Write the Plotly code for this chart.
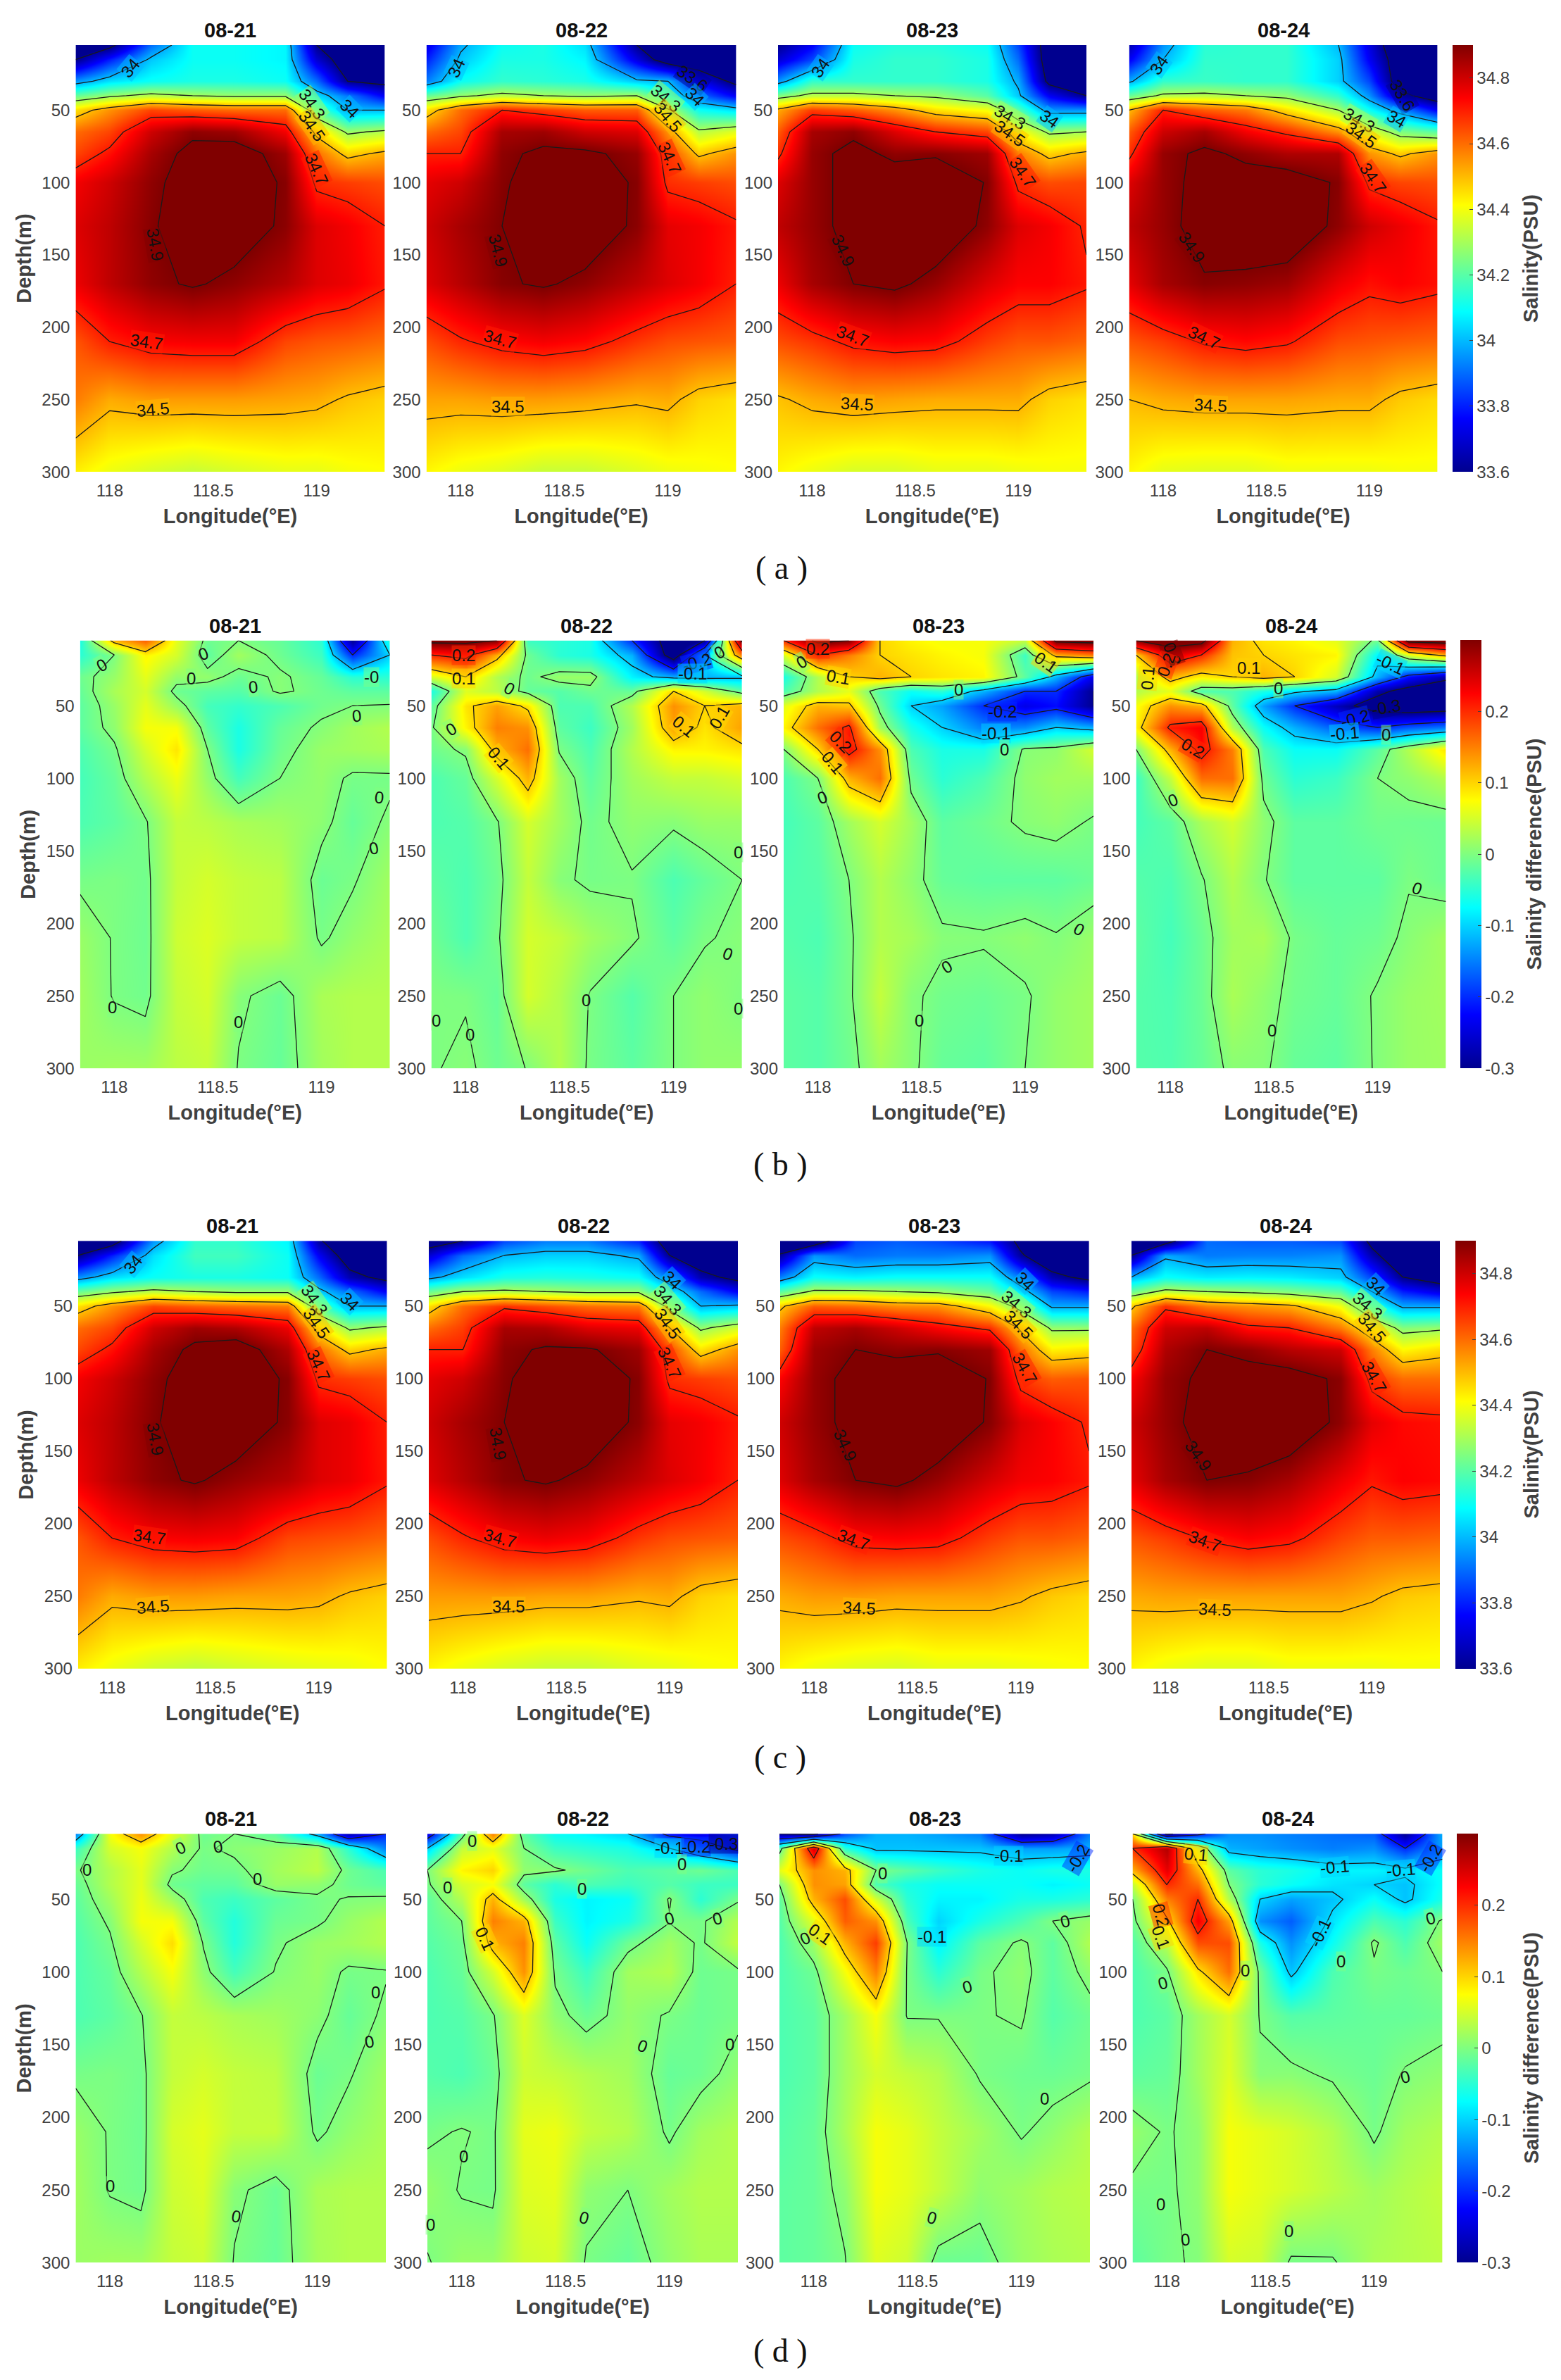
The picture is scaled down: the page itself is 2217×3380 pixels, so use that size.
import plotly.graph_objects as go

days = ['08-21', '08-22', '08-23', '08-24']
depths = [5, 15, 30, 40, 50, 65, 80, 100, 130, 170, 210, 250, 300]
lon_sal = [117.835, 118.0, 118.2, 118.4, 118.6, 118.85, 119.0, 119.15, 119.33]
lon_dif = [117.835, 118.0, 118.15, 118.3, 118.45, 118.6, 118.8, 119.0, 119.15, 119.33]

sal_levels = [33.6, 34, 34.3, 34.5, 34.7, 34.9]
dif_levels = [-0.3, -0.2, -0.1, 0, 0.1, 0.2, 0.3]
sal_ticks = [33.6, 33.8, 34, 34.2, 34.4, 34.6, 34.8]
dif_ticks = [-0.3, -0.2, -0.1, 0, 0.1, 0.2]

a_21 = [
    [33.5, 33.55, 33.9, 34.1, 34.1, 34.08, 33.6, 33.45, 33.45],
    [33.6, 33.8, 34.02, 34.1, 34.1, 34.08, 33.7, 33.5, 33.45],
    [33.95, 34.05, 34.1, 34.12, 34.12, 34.1, 33.9, 33.6, 33.55],
    [34.22, 34.28, 34.33, 34.3, 34.28, 34.28, 34.05, 33.92, 33.75],
    [34.45, 34.55, 34.65, 34.62, 34.6, 34.6, 34.2, 34.0, 34.0],
    [34.6, 34.65, 34.8, 34.88, 34.86, 34.75, 34.47, 34.28, 34.32],
    [34.65, 34.72, 34.85, 34.93, 34.95, 34.86, 34.6, 34.47, 34.52],
    [34.75, 34.8, 34.88, 34.94, 34.95, 34.89, 34.68, 34.66, 34.64],
    [34.78, 34.82, 34.89, 34.95, 34.95, 34.885, 34.78, 34.75, 34.7],
    [34.76, 34.82, 34.88, 34.91, 34.88, 34.83, 34.78, 34.76, 34.71],
    [34.63, 34.7, 34.74, 34.75, 34.75, 34.65, 34.63, 34.62, 34.6],
    [34.58, 34.52, 34.54, 34.54, 34.54, 34.53, 34.52, 34.49, 34.47],
    [34.43, 34.39, 34.36, 34.34, 34.36, 34.38, 34.38, 34.4, 34.41],
]
a_22 = [
    [33.72, 33.98, 34.1, 34.12, 34.05, 33.6, 33.45, 33.45, 33.45],
    [33.8, 34.02, 34.12, 34.12, 34.08, 33.72, 33.5, 33.45, 33.45],
    [33.92, 34.1, 34.15, 34.14, 34.12, 34.02, 34.0, 33.75, 33.55],
    [34.22, 34.28, 34.33, 34.3, 34.28, 34.3, 34.1, 33.9, 33.75],
    [34.45, 34.6, 34.7, 34.66, 34.62, 34.62, 34.32, 34.1, 34.05],
    [34.6, 34.65, 34.85, 34.86, 34.8, 34.78, 34.55, 34.32, 34.38],
    [34.7, 34.7, 34.88, 34.92, 34.92, 34.87, 34.65, 34.48, 34.55],
    [34.77, 34.8, 34.89, 34.94, 34.95, 34.89, 34.68, 34.66, 34.64],
    [34.8, 34.85, 34.9, 34.95, 34.96, 34.885, 34.77, 34.75, 34.71],
    [34.78, 34.83, 34.89, 34.91, 34.88, 34.82, 34.78, 34.75, 34.7],
    [34.64, 34.69, 34.73, 34.75, 34.73, 34.67, 34.64, 34.63, 34.62],
    [34.53, 34.53, 34.54, 34.54, 34.53, 34.51, 34.52, 34.47, 34.45],
    [34.42, 34.39, 34.37, 34.34, 34.34, 34.37, 34.39, 34.4, 34.41],
]
a_23 = [
    [33.6, 33.75, 34.1, 34.13, 34.13, 34.1, 33.85, 33.5, 33.4],
    [33.7, 33.85, 34.12, 34.15, 34.15, 34.12, 33.9, 33.5, 33.42],
    [33.95, 34.15, 34.15, 34.15, 34.15, 34.12, 33.98, 33.55, 33.45],
    [34.25, 34.33, 34.33, 34.3, 34.28, 34.2, 34.02, 33.75, 33.6],
    [34.52, 34.66, 34.62, 34.55, 34.45, 34.4, 34.2, 33.95, 33.95],
    [34.62, 34.85, 34.88, 34.78, 34.7, 34.65, 34.42, 34.28, 34.3],
    [34.68, 34.87, 34.93, 34.88, 34.89, 34.86, 34.58, 34.47, 34.52],
    [34.78, 34.87, 34.93, 34.95, 34.96, 34.895, 34.68, 34.64, 34.65],
    [34.82, 34.87, 34.93, 34.97, 34.97, 34.88, 34.78, 34.75, 34.69],
    [34.76, 34.85, 34.9, 34.92, 34.87, 34.78, 34.74, 34.74, 34.71],
    [34.64, 34.67, 34.72, 34.74, 34.73, 34.66, 34.63, 34.63, 34.61],
    [34.49, 34.52, 34.54, 34.53, 34.52, 34.52, 34.52, 34.47, 34.45],
    [34.42, 34.39, 34.36, 34.36, 34.38, 34.38, 34.39, 34.4, 34.4],
]
a_24 = [
    [33.65, 33.95, 34.14, 34.15, 34.15, 34.0, 33.72, 33.45, 33.4],
    [33.75, 34.0, 34.15, 34.15, 34.15, 34.03, 33.75, 33.5, 33.42],
    [33.98, 34.15, 34.16, 34.15, 34.15, 34.03, 33.85, 33.5, 33.42],
    [34.22, 34.32, 34.33, 34.3, 34.27, 34.15, 33.95, 33.65, 33.5],
    [34.5, 34.7, 34.62, 34.58, 34.45, 34.3, 34.1, 33.95, 33.75],
    [34.62, 34.8, 34.85, 34.75, 34.68, 34.55, 34.38, 34.25, 34.2],
    [34.68, 34.87, 34.92, 34.88, 34.84, 34.84, 34.55, 34.48, 34.55],
    [34.78, 34.87, 34.93, 34.94, 34.95, 34.89, 34.68, 34.65, 34.64],
    [34.82, 34.87, 34.94, 34.96, 34.97, 34.88, 34.8, 34.76, 34.71],
    [34.77, 34.85, 34.89, 34.88, 34.86, 34.76, 34.72, 34.74, 34.72],
    [34.63, 34.66, 34.71, 34.73, 34.71, 34.64, 34.63, 34.62, 34.61],
    [34.5, 34.52, 34.53, 34.53, 34.53, 34.52, 34.52, 34.48, 34.46],
    [34.42, 34.38, 34.37, 34.37, 34.39, 34.39, 34.39, 34.4, 34.4],
]

b_21 = [
    [-0.06, 0.12, 0.17, 0.06, -0.01, 0.0, -0.015, -0.05, -0.3, -0.05],
    [-0.05, 0.0, 0.08, 0.05, -0.02, 0.02, -0.01, -0.04, -0.2, -0.1],
    [-0.01, 0.015, 0.06, 0.012, 0.012, -0.012, 0.005, -0.015, -0.05, -0.05],
    [-0.015, 0.025, 0.05, -0.01, -0.02, -0.025, 0.005, -0.01, -0.02, -0.02],
    [-0.02, 0.015, 0.06, 0.015, -0.035, -0.045, -0.03, -0.008, 0.0, 0.002],
    [-0.02, 0.01, 0.07, 0.07, -0.02, -0.06, -0.015, 0.005, 0.02, 0.03],
    [-0.03, -0.005, 0.05, 0.09, 0.0, -0.06, -0.01, 0.015, 0.02, 0.025],
    [-0.035, -0.015, 0.03, 0.065, 0.012, -0.035, 0.0, 0.012, -0.005, -0.005],
    [-0.03, -0.02, -0.003, 0.04, 0.035, 0.025, 0.02, 0.008, -0.015, 0.005],
    [-0.005, -0.002, -0.008, 0.04, 0.05, 0.04, 0.035, -0.012, -0.003, 0.02],
    [0.015, -0.002, -0.01, 0.045, 0.055, 0.04, 0.035, -0.004, 0.012, 0.025],
    [0.02, -0.002, -0.008, 0.04, 0.05, 0.005, -0.012, 0.025, 0.03, 0.03],
    [0.015, 0.02, 0.02, 0.035, 0.04, -0.002, -0.015, 0.02, 0.03, 0.03],
]
b_22 = [
    [0.32, 0.32, 0.3, -0.04, -0.05, -0.06, -0.2, -0.35, -0.3, 0.32],
    [0.2, 0.22, 0.12, -0.01, -0.05, -0.06, -0.12, -0.35, -0.1, 0.15],
    [0.05, 0.1, 0.03, -0.01, 0.015, 0.015, -0.08, -0.12, -0.12, -0.11],
    [-0.06, 0.055, 0.035, -0.015, -0.025, -0.01, -0.015, 0.1, 0.05, -0.02],
    [-0.02, 0.09, 0.13, 0.09, -0.03, -0.03, 0.03, 0.14, 0.1, 0.12],
    [-0.005, 0.08, 0.15, 0.14, -0.02, -0.04, 0.02, 0.13, 0.09, 0.13],
    [-0.01, 0.005, 0.12, 0.16, -0.003, -0.03, 0.03, 0.08, 0.08, 0.09],
    [-0.03, -0.015, 0.05, 0.12, 0.02, -0.02, 0.02, 0.04, 0.04, 0.05],
    [-0.03, -0.025, -0.003, 0.05, 0.02, -0.008, 0.01, 0.005, 0.015, 0.015],
    [-0.02, -0.03, -0.01, 0.04, 0.005, -0.005, -0.002, -0.03, -0.015, 0.0],
    [-0.01, -0.03, -0.005, 0.05, 0.04, 0.02, 0.004, -0.02, -0.002, 0.005],
    [0.0, -0.002, -0.015, 0.05, 0.03, -0.002, -0.025, 0.0, 0.01, 0.0],
    [-0.002, 0.005, -0.01, 0.001, 0.03, -0.005, -0.02, 0.0, 0.01, 0.012],
]
b_23 = [
    [0.2, 0.32, 0.3, 0.1, 0.08, 0.07, 0.07, 0.04, 0.32, 0.33],
    [0.05, 0.2, 0.15, 0.1, 0.09, 0.08, 0.07, -0.04, 0.12, 0.15],
    [-0.06, 0.03, 0.1, 0.12, 0.1, 0.09, 0.08, -0.02, -0.12, -0.24],
    [-0.03, 0.03, 0.06, -0.03, -0.07, -0.05, -0.12, -0.2, -0.2, -0.3],
    [0.06, 0.12, 0.11, -0.01, -0.1, -0.13, -0.2, -0.24, -0.22, -0.3],
    [0.08, 0.16, 0.21, 0.02, -0.06, -0.1, -0.15, -0.14, -0.1, -0.12],
    [0.0, 0.1, 0.22, 0.14, -0.03, -0.06, -0.06, 0.005, 0.01, 0.05],
    [-0.03, 0.0, 0.12, 0.16, -0.01, -0.05, -0.03, 0.01, 0.02, 0.02],
    [-0.035, -0.02, 0.02, 0.05, 0.02, -0.02, -0.01, 0.005, 0.01, -0.003],
    [-0.03, -0.025, 0.0, 0.03, 0.01, -0.015, -0.02, -0.02, -0.02, -0.012],
    [-0.025, -0.03, -0.005, 0.03, 0.022, 0.005, 0.003, 0.01, 0.002, 0.015],
    [-0.02, -0.025, -0.005, 0.04, 0.005, -0.008, -0.012, -0.003, 0.012, 0.02],
    [-0.02, -0.025, -0.01, 0.02, 0.005, -0.015, -0.02, 0.0, 0.012, 0.02],
]
b_24 = [
    [0.3, 0.34, 0.33, 0.12, 0.09, 0.08, 0.06, -0.01, 0.33, 0.34],
    [0.1, 0.25, 0.2, 0.11, 0.1, 0.09, 0.08, -0.08, 0.05, 0.12],
    [0.03, 0.12, 0.08, 0.1, 0.12, 0.1, 0.05, -0.12, -0.22, -0.28],
    [0.03, 0.06, -0.03, -0.03, -0.06, -0.09, -0.12, -0.28, -0.33, -0.36],
    [0.07, 0.14, 0.12, -0.02, -0.13, -0.2, -0.27, -0.34, -0.36, -0.35],
    [0.08, 0.21, 0.23, 0.03, -0.07, -0.12, -0.17, -0.2, -0.17, -0.15],
    [0.0, 0.12, 0.22, 0.15, -0.03, -0.07, -0.07, -0.02, 0.03, 0.09],
    [-0.04, 0.04, 0.16, 0.16, -0.01, -0.05, -0.04, 0.0, 0.01, 0.03],
    [-0.035, -0.02, 0.025, 0.05, 0.01, -0.02, -0.02, -0.008, -0.01, -0.012],
    [-0.025, -0.03, -0.003, 0.03, 0.002, -0.02, -0.02, -0.02, -0.002, -0.012],
    [-0.02, -0.035, -0.012, 0.02, 0.025, -0.005, -0.015, -0.01, 0.006, 0.02],
    [-0.025, -0.03, -0.012, 0.025, 0.01, -0.008, -0.015, 0.003, 0.015, 0.02],
    [-0.025, -0.028, -0.015, 0.006, 0.004, -0.015, -0.02, 0.003, 0.015, 0.018],
]

c_21 = [
    [33.45, 33.5, 33.95, 34.15, 34.15, 34.08, 33.62, 33.45, 33.45],
    [33.6, 33.8, 34.05, 34.17, 34.17, 34.1, 33.75, 33.5, 33.45],
    [33.95, 34.05, 34.1, 34.12, 34.12, 34.1, 33.9, 33.65, 33.55],
    [34.22, 34.28, 34.33, 34.3, 34.28, 34.28, 34.03, 33.9, 33.75],
    [34.45, 34.55, 34.65, 34.62, 34.6, 34.58, 34.2, 34.0, 34.0],
    [34.6, 34.65, 34.8, 34.86, 34.84, 34.76, 34.45, 34.28, 34.32],
    [34.65, 34.72, 34.85, 34.92, 34.95, 34.84, 34.6, 34.47, 34.52],
    [34.75, 34.8, 34.88, 34.94, 34.95, 34.89, 34.68, 34.66, 34.64],
    [34.78, 34.82, 34.89, 34.95, 34.96, 34.885, 34.78, 34.76, 34.7],
    [34.76, 34.82, 34.88, 34.91, 34.87, 34.83, 34.78, 34.76, 34.71],
    [34.63, 34.7, 34.74, 34.75, 34.74, 34.65, 34.64, 34.63, 34.61],
    [34.58, 34.52, 34.54, 34.54, 34.53, 34.53, 34.52, 34.49, 34.47],
    [34.43, 34.39, 34.35, 34.33, 34.35, 34.37, 34.38, 34.39, 34.41],
]
c_22 = [
    [33.5, 33.6, 33.85, 33.92, 33.92, 33.8, 33.48, 33.45, 33.45],
    [33.7, 33.9, 34.0, 34.03, 34.03, 33.98, 33.6, 33.48, 33.45],
    [33.97, 34.05, 34.12, 34.13, 34.12, 34.1, 33.92, 33.65, 33.55],
    [34.22, 34.3, 34.32, 34.3, 34.28, 34.28, 34.08, 33.9, 33.75],
    [34.45, 34.6, 34.68, 34.64, 34.6, 34.58, 34.25, 34.0, 34.02],
    [34.6, 34.66, 34.85, 34.84, 34.78, 34.76, 34.5, 34.28, 34.36],
    [34.7, 34.7, 34.88, 34.91, 34.91, 34.86, 34.65, 34.45, 34.55],
    [34.77, 34.8, 34.89, 34.94, 34.95, 34.89, 34.68, 34.66, 34.64],
    [34.8, 34.85, 34.9, 34.95, 34.96, 34.885, 34.77, 34.75, 34.71],
    [34.78, 34.83, 34.89, 34.91, 34.88, 34.82, 34.78, 34.75, 34.7],
    [34.64, 34.69, 34.74, 34.76, 34.74, 34.67, 34.64, 34.63, 34.62],
    [34.54, 34.54, 34.54, 34.53, 34.53, 34.51, 34.52, 34.47, 34.45],
    [34.42, 34.39, 34.36, 34.34, 34.34, 34.37, 34.38, 34.4, 34.41],
]
c_23 = [
    [33.4, 33.45, 33.85, 33.88, 33.85, 33.78, 33.55, 33.42, 33.4],
    [33.62, 33.95, 33.9, 33.92, 33.92, 33.95, 33.62, 33.45, 33.42],
    [33.93, 34.1, 34.08, 34.1, 34.1, 34.1, 33.92, 33.65, 33.55],
    [34.2, 34.32, 34.32, 34.3, 34.28, 34.22, 34.05, 33.85, 33.8],
    [34.48, 34.62, 34.6, 34.56, 34.55, 34.42, 34.25, 33.98, 33.98],
    [34.58, 34.82, 34.85, 34.8, 34.74, 34.68, 34.48, 34.28, 34.28],
    [34.62, 34.86, 34.9, 34.88, 34.89, 34.86, 34.6, 34.43, 34.45],
    [34.74, 34.87, 34.93, 34.95, 34.96, 34.895, 34.67, 34.62, 34.63],
    [34.8, 34.87, 34.93, 34.96, 34.97, 34.89, 34.78, 34.74, 34.69],
    [34.78, 34.85, 34.9, 34.92, 34.87, 34.79, 34.75, 34.74, 34.71],
    [34.64, 34.67, 34.73, 34.74, 34.73, 34.66, 34.63, 34.63, 34.61],
    [34.52, 34.54, 34.54, 34.53, 34.53, 34.53, 34.51, 34.48, 34.46],
    [34.42, 34.39, 34.37, 34.36, 34.38, 34.38, 34.39, 34.4, 34.41],
]
c_24 = [
    [33.42, 33.5, 33.9, 33.88, 33.88, 33.85, 33.55, 33.42, 33.4],
    [33.6, 33.98, 33.92, 33.93, 33.93, 33.95, 33.65, 33.45, 33.42],
    [34.0, 34.1, 34.07, 34.08, 34.07, 34.03, 33.85, 33.6, 33.5],
    [34.22, 34.33, 34.3, 34.28, 34.25, 34.2, 34.0, 33.8, 33.72],
    [34.48, 34.68, 34.58, 34.55, 34.52, 34.4, 34.15, 33.98, 33.98],
    [34.6, 34.8, 34.82, 34.72, 34.7, 34.58, 34.42, 34.26, 34.28],
    [34.64, 34.84, 34.9, 34.88, 34.83, 34.8, 34.58, 34.42, 34.46],
    [34.74, 34.87, 34.92, 34.93, 34.94, 34.885, 34.67, 34.6, 34.6],
    [34.8, 34.87, 34.94, 34.96, 34.97, 34.88, 34.77, 34.73, 34.72],
    [34.77, 34.85, 34.9, 34.89, 34.85, 34.76, 34.71, 34.74, 34.73],
    [34.63, 34.66, 34.71, 34.74, 34.72, 34.65, 34.62, 34.62, 34.61],
    [34.52, 34.53, 34.53, 34.53, 34.53, 34.53, 34.51, 34.48, 34.47],
    [34.42, 34.39, 34.37, 34.37, 34.39, 34.39, 34.39, 34.4, 34.4],
]

d_21 = [
    [-0.15, 0.07, 0.14, 0.06, -0.01, 0.0, -0.02, -0.12, -0.28, -0.2],
    [-0.04, 0.05, 0.07, 0.03, -0.004, 0.006, 0.015, 0.03, -0.05, -0.15],
    [-0.005, 0.03, 0.06, 0.005, -0.01, -0.008, 0.02, 0.035, -0.01, -0.03],
    [-0.015, 0.03, 0.06, -0.01, -0.02, -0.02, 0.015, 0.01, -0.01, -0.02],
    [-0.02, 0.02, 0.065, 0.02, -0.03, -0.04, -0.02, -0.005, 0.002, 0.005],
    [-0.025, 0.005, 0.07, 0.07, -0.02, -0.055, -0.012, -0.005, 0.015, 0.03],
    [-0.03, -0.005, 0.05, 0.095, -0.002, -0.055, -0.005, 0.015, 0.02, 0.03],
    [-0.03, -0.015, 0.03, 0.07, 0.01, -0.035, 0.002, 0.015, -0.005, -0.002],
    [-0.03, -0.02, -0.002, 0.04, 0.035, 0.025, 0.02, 0.008, -0.015, 0.005],
    [-0.005, -0.002, -0.008, 0.04, 0.05, 0.04, 0.035, -0.012, -0.003, 0.02],
    [0.015, -0.002, -0.01, 0.05, 0.06, 0.04, 0.04, -0.005, 0.012, 0.025],
    [0.02, -0.002, -0.008, 0.045, 0.055, 0.006, -0.012, 0.025, 0.03, 0.03],
    [0.015, 0.02, 0.02, 0.04, 0.045, -0.002, -0.015, 0.022, 0.03, 0.03],
]
d_22 = [
    [-0.25, -0.02, 0.15, -0.02, -0.07, -0.08, -0.1, -0.22, -0.24, -0.2],
    [-0.1, 0.04, 0.06, 0.0, -0.04, -0.05, -0.06, -0.1, -0.15, -0.22],
    [0.0, 0.08, 0.1, 0.01, 0.005, -0.01, -0.03, -0.02, -0.01, -0.03],
    [-0.005, 0.05, 0.07, -0.02, -0.05, -0.03, -0.04, -0.025, -0.04, -0.04],
    [-0.02, 0.03, 0.12, 0.02, -0.06, -0.08, -0.07, 0.003, -0.05, -0.005],
    [-0.02, 0.0, 0.15, 0.12, -0.04, -0.08, -0.06, -0.002, -0.005, 0.03],
    [-0.025, -0.01, 0.12, 0.15, -0.02, -0.07, -0.01, 0.02, -0.005, 0.04],
    [-0.03, -0.015, 0.05, 0.14, -0.005, -0.04, 0.02, 0.03, -0.01, -0.005],
    [-0.03, -0.025, -0.003, 0.055, 0.01, -0.012, 0.012, -0.003, -0.012, -0.005],
    [-0.025, -0.03, -0.012, 0.045, 0.04, 0.03, 0.02, -0.015, -0.01, 0.01],
    [-0.005, 0.002, -0.005, 0.06, 0.065, 0.04, 0.03, -0.005, 0.02, 0.03],
    [0.012, -0.002, -0.005, 0.055, 0.06, 0.01, 0.0, 0.02, 0.03, 0.03],
    [-0.002, 0.015, 0.015, 0.045, 0.05, -0.003, -0.015, 0.012, 0.025, 0.025],
]
d_23 = [
    [-0.3, -0.32, -0.18, -0.12, -0.12, -0.13, -0.15, -0.3, -0.28, -0.15],
    [-0.02, 0.25, -0.05, -0.11, -0.11, -0.11, -0.11, -0.13, -0.13, -0.12],
    [0.06, 0.14, 0.12, 0.0, -0.02, -0.04, -0.06, -0.07, -0.06, -0.06],
    [0.0, 0.14, 0.13, -0.03, -0.06, -0.07, -0.07, -0.07, -0.08, -0.07],
    [-0.02, 0.12, 0.18, 0.05, -0.05, -0.08, -0.08, -0.06, -0.06, -0.05],
    [-0.025, 0.06, 0.17, 0.14, -0.03, -0.1, -0.06, -0.03, 0.0, 0.015],
    [-0.03, 0.02, 0.12, 0.19, 0.0, -0.08, -0.02, 0.005, -0.02, 0.03],
    [-0.03, -0.01, 0.07, 0.15, -0.003, -0.05, -0.005, 0.01, -0.02, 0.01],
    [-0.03, -0.02, 0.02, 0.07, -0.002, -0.002, -0.002, 0.003, -0.025, -0.01],
    [-0.03, -0.02, 0.02, 0.05, 0.04, 0.03, -0.003, -0.01, -0.012, -0.005],
    [-0.025, -0.015, 0.025, 0.07, 0.06, 0.04, 0.02, -0.003, 0.01, 0.03],
    [-0.02, -0.015, 0.01, 0.07, 0.06, 0.04, 0.01, 0.02, 0.03, 0.035],
    [-0.02, -0.015, -0.002, 0.055, 0.045, -0.012, -0.012, 0.015, 0.025, 0.03],
]
d_24 = [
    [0.1, -0.32, -0.22, -0.14, -0.14, -0.15, -0.16, -0.17, -0.3, -0.12],
    [0.2, 0.27, 0.05, -0.12, -0.13, -0.14, -0.15, -0.14, -0.2, -0.13],
    [0.12, 0.24, 0.12, -0.02, -0.05, -0.06, -0.08, -0.08, -0.09, -0.07],
    [0.04, 0.2, 0.16, 0.0, -0.05, -0.07, -0.09, -0.1, -0.11, -0.07],
    [0.0, 0.15, 0.2, 0.03, -0.1, -0.13, -0.11, -0.07, -0.11, -0.06],
    [-0.01, 0.09, 0.23, 0.13, -0.14, -0.17, -0.09, -0.03, -0.05, 0.005],
    [-0.025, 0.035, 0.18, 0.18, -0.06, -0.14, -0.07, 0.005, -0.03, 0.02],
    [-0.03, -0.005, 0.09, 0.16, -0.01, -0.11, -0.03, -0.005, -0.01, 0.0],
    [-0.03, -0.02, 0.02, 0.05, -0.002, -0.025, -0.02, -0.015, -0.015, -0.01],
    [-0.02, -0.015, 0.02, 0.055, 0.005, 0.006, -0.005, -0.012, 0.002, 0.01],
    [0.012, -0.003, 0.01, 0.07, 0.06, 0.05, 0.03, -0.005, 0.02, 0.03],
    [-0.005, -0.005, 0.01, 0.07, 0.06, 0.05, 0.035, 0.02, 0.03, 0.04],
    [-0.02, -0.004, 0.003, 0.05, 0.045, -0.005, -0.003, 0.025, 0.03, 0.035],
]

# contour labels: text, lon, depth, angle
lab_a_21 = [('34', 118.10, 21, -50), ('34', 119.16, 49, 45), ('34.3', 118.98, 46, 55), ('34.5', 118.98, 61, 55),
            ('34.7', 119.0, 91, 65), ('34.9', 118.22, 143, 80), ('34.7', 118.18, 210, 8), ('34.5', 118.21, 257, -5)]
lab_a_22 = [('34', 117.98, 21, -65), ('33.6', 119.12, 28, 35), ('34', 119.13, 41, 45), ('34.3', 118.99, 42, 40),
            ('34.5', 119.0, 55, 50), ('34.7', 119.01, 83, 65), ('34.9', 118.18, 147, 75), ('34.7', 118.19, 208, 15),
            ('34.5', 118.23, 255, 0)]
lab_a_23 = [('34', 118.04, 21, -55), ('34', 119.15, 56, 35), ('34.3', 118.96, 55, 30), ('34.5', 118.96, 66, 35),
            ('34.7', 119.02, 93, 55), ('34.9', 118.15, 147, 65), ('34.7', 118.2, 206, 20), ('34.5', 118.22, 253, 3)]
lab_a_24 = [('34', 117.98, 19, -55), ('33.6', 119.16, 40, 60), ('34', 119.13, 56, 30), ('34.3', 118.95, 57, 30),
            ('34.5', 118.96, 67, 35), ('34.7', 119.02, 97, 55), ('34.9', 118.14, 145, 55), ('34.7', 118.2, 207, 25),
            ('34.5', 118.23, 254, 3)]
lab_b_21 = [('0', 117.94, 22, -30), ('0', 118.43, 14, -20), ('0', 118.37, 31, 0), ('0', 118.67, 37, -5),
            ('-0', 119.24, 30, 0), ('0', 119.17, 57, -5), ('0', 119.28, 113, 5), ('0', 119.25, 148, -10),
            ('0', 117.99, 258, 0), ('0', 118.6, 268, 0)]
lab_b_22 = [('0.2', 117.99, 15, 0), ('0.1', 117.99, 31, 0), ('0', 118.21, 38, 30), ('0', 117.93, 66, -30),
            ('0.1', 118.16, 86, 50), ('-0.2', 119.11, 20, -15), ('-0.1', 119.09, 28, 0), ('0.1', 119.05, 64, 40),
            ('0.1', 119.22, 58, -60), ('0', 119.22, 13, -30), ('0', 119.31, 151, 0), ('0', 119.26, 221, 20),
            ('0', 118.58, 253, 0), ('0', 119.31, 259, 0), ('0', 117.86, 267, 0), ('0', 118.02, 277, 0)]
lab_b_23 = [('0.2', 118.0, 11, 0), ('0', 117.92, 20, -30), ('0.1', 118.1, 30, 10), ('0.1', 119.1, 20, 35),
            ('0', 118.68, 39, 0), ('-0.2', 118.89, 54, 0), ('-0.1', 118.86, 69, 0), ('0', 118.9, 80, 0),
            ('0.2', 118.11, 75, 45), ('0.1', 118.07, 89, 50), ('0', 118.02, 113, -20), ('0', 119.26, 204, 30),
            ('0', 118.62, 230, -30), ('0', 118.49, 267, 0)]
lab_b_24 = [('0.3', 118.01, 14, 70), ('0.2', 117.98, 22, -70), ('0.1', 117.89, 31, -85), ('0.1', 118.38, 24, 0),
            ('0', 118.52, 38, 0), ('-0.1', 119.06, 21, 25), ('-0.2', 118.89, 59, -15), ('-0.3', 119.04, 51, -10),
            ('-0.1', 118.84, 69, -5), ('0', 119.04, 70, 0), ('0.2', 118.11, 79, 30), ('0', 118.01, 115, -20),
            ('0', 119.19, 176, 20), ('0', 118.49, 274, 0)]
lab_c_21 = [('34', 118.1, 21, -50), ('34', 119.15, 47, 45), ('34.3', 118.98, 46, 55), ('34.5', 118.99, 62, 55),
            ('34.7', 119.0, 91, 65), ('34.9', 118.21, 142, 80), ('34.7', 118.18, 209, 8), ('34.5', 118.2, 257, -5)]
lab_c_22 = [('34', 119.01, 32, 45), ('34.3', 118.99, 46, 50), ('34.5', 118.99, 62, 55), ('34.7', 119.0, 89, 65),
            ('34.9', 118.17, 145, 80), ('34.7', 118.18, 210, 15), ('34.5', 118.22, 257, 0)]
lab_c_23 = [('34', 119.02, 33, 45), ('34.3', 118.98, 49, 40), ('34.5', 118.99, 63, 45), ('34.7', 119.02, 93, 60),
            ('34.9', 118.15, 146, 65), ('34.7', 118.19, 211, 20), ('34.5', 118.22, 258, 3)]
lab_c_24 = [('34', 119.02, 36, 45), ('34.3', 118.98, 50, 40), ('34.5', 119.0, 65, 50), ('34.7', 119.01, 99, 60),
            ('34.9', 118.16, 153, 55), ('34.7', 118.19, 212, 20), ('34.5', 118.24, 259, 3)]
lab_d_21 = [('0', 117.89, 30, 0), ('0', 118.34, 15, -25), ('0', 118.52, 14, -10), ('0', 118.71, 36, 0),
            ('0', 119.28, 114, 0), ('0', 119.25, 148, -10), ('0', 118.0, 247, 0), ('0', 118.61, 268, 10)]
lab_d_22 = [('0', 118.05, 10, 0), ('-0.1', 119.0, 15, 0), ('-0.2', 119.13, 14, 0), ('-0.3', 119.26, 12, 0),
            ('0', 119.06, 26, 0), ('0', 117.93, 42, 0), ('0', 118.58, 43, 0), ('0.1', 118.11, 77, 65),
            ('0', 119.0, 63, -15), ('0', 119.23, 63, -15), ('0', 118.87, 151, 20), ('0', 119.29, 150, 0),
            ('0', 118.01, 227, 0), ('0', 117.85, 274, 0), ('0', 118.59, 269, 15)]
lab_d_23 = [('-0.1', 118.94, 20, 0), ('-0.2', 119.27, 22, -60), ('0', 118.33, 32, 0), ('0', 119.21, 65, -15),
            ('0.1', 118.03, 74, 35), ('0', 117.96, 77, -25), ('-0.1', 118.57, 76, 0), ('0', 118.74, 110, -15),
            ('0', 119.11, 187, 0), ('0', 118.57, 269, 15)]
lab_d_24 = [('0.1', 118.14, 19, 5), ('-0.1', 118.81, 28, -5), ('-0.1', 119.13, 30, -5), ('-0.2', 119.27, 22, -60),
            ('0.2', 117.97, 61, 75), ('0.1', 117.97, 76, 70), ('-0.1', 118.74, 73, -65), ('0', 119.27, 63, -15),
            ('0', 118.38, 99, 0), ('0', 117.98, 108, -15), ('0', 118.84, 93, 0), ('0', 119.15, 172, -15),
            ('0', 117.97, 260, 0), ('0', 118.09, 284, -5), ('0', 118.59, 278, 0)]

# matlab jet
jet_stops = [(0, (0, 0, 143)), (0.125, (0, 0, 255)), (0.375, (0, 255, 255)), (0.625, (255, 255, 0)),
             (0.875, (255, 0, 0)), (1, (128, 0, 0))]
jet = [[p, 'rgb(%d,%d,%d)' % c] for p, c in jet_stops]


def jet_rgba(v, lims, alpha):
    # color of a contour level, used behind its label so the line looks cut
    t = min(max((v - lims[0]) / (lims[1] - lims[0]), 0), 1)
    for (p0, c0), (p1, c1) in zip(jet_stops, jet_stops[1:]):
        if t <= p1:
            f = (t - p0) / (p1 - p0)
            r, g, b = [round(u + (w - u) * f) for u, w in zip(c0, c1)]
            return f'rgba({r},{g},{b},{alpha})'


# the page adds a margin round the figure, so keep the figure smaller than the window
W, H, PAD = 2201, 3364, 8
GREY = '#404040'
FONT = 'Liberation Sans'
YSTRETCH = 1.0034  # measured against the first renders

# one entry per row: panels, labels, lons, levels, color limits, bar title, ticks, top/bottom px, left/right px, bar px, bar title x, caption
rows = [
    ([a_21, a_22, a_23, a_24], [lab_a_21, lab_a_22, lab_a_23, lab_a_24], lon_sal, sal_levels, (33.6, 34.9),
     'Salinity(PSU)', sal_ticks, (63, 669.5), [(107.4, 546.7), (605.6, 1045.6), (1105, 1543), (1603.6, 2041.6)],
     (2063, 2092), 2174, '( a )', (1110, 806)),
    ([b_21, b_22, b_23, b_24], [lab_b_21, lab_b_22, lab_b_23, lab_b_24], lon_dif, dif_levels, (-0.3, 0.3),
     'Salinity difference(PSU)', dif_ticks, (909, 1517), [(113.7, 553.7), (612.6, 1054), (1113, 1553), (1613.5, 2053.7)],
     (2074, 2103.5), 2179, '( b )', (1108, 1653)),
    ([c_21, c_22, c_23, c_24], [lab_c_21, lab_c_22, lab_c_23, lab_c_24], lon_sal, sal_levels, (33.6, 34.9),
     'Salinity(PSU)', sal_ticks, (1762, 2370), [(110.9, 549.5), (609, 1048), (1108, 1546.6), (1607, 2045)],
     (2066.5, 2095), 2175.5, '( c )', (1108, 2496)),
    ([d_21, d_22, d_23, d_24], [lab_d_21, lab_d_22, lab_d_23, lab_d_24], lon_dif, dif_levels, (-0.3, 0.3),
     'Salinity difference(PSU)', dif_ticks, (2604.5, 3214), [(107.4, 548), (607, 1048), (1107, 1548), (1608.5, 2048.7)],
     (2068.7, 2099), 2175, '( d )', (1108, 3339)),
]


def fx(px):
    return (px - PAD) / W


def fy(py):
    return 1 - ((py - PAD) * YSTRETCH + 1) / H


fig = go.Figure()
annotations = []
axes = {}
n = 0
for panels, labels, lons, levels, lims, bar_title, bar_ticks, (top, bottom), spans, (bar_l, bar_r), bar_tx, caption, cap_xy in rows:
    for i, z in enumerate(panels):
        n += 1
        xname = 'x' if n == 1 else f'x{n}'
        yname = 'y' if n == 1 else f'y{n}'
        key = '' if n == 1 else str(n)
        bar = dict(
            x=fx(bar_l), xanchor='left', y=fy(bottom), yanchor='bottom',
            len=fy(top) - fy(bottom), lenmode='fraction', thickness=bar_r - bar_l, thicknessmode='pixels',
            xpad=0, ypad=0, outlinewidth=0,
            tickmode='array', tickvals=bar_ticks, ticktext=[f'{t:g}' for t in bar_ticks],
            ticks='inside', ticklen=5, tickcolor=GREY, tickfont=dict(family=FONT, size=24, color=GREY),
        )
        fig.add_trace(go.Heatmap(
            x=lons, y=depths, z=z, xaxis=xname, yaxis=yname, colorscale=jet, zmin=lims[0], zmax=lims[1],
            zsmooth='best', showscale=(i == 3), colorbar=bar, hoverinfo='skip',
        ))
        for lvl in levels:
            fig.add_trace(go.Contour(
                x=lons, y=depths, z=z, xaxis=xname, yaxis=yname, autocontour=False, showscale=False,
                contours=dict(start=lvl, end=lvl, size=1, coloring='none', showlabels=False),
                line=dict(color='#1a1a1a', width=1.3, smoothing=0), hoverinfo='skip',
            ))
        axes[f'xaxis{key}'] = dict(
            domain=[fx(spans[i][0]), fx(spans[i][1])], range=[117.835, 119.33], anchor=yname,
            tickvals=[118, 118.5, 119], ticktext=['118', '118.5', '119'], ticks='', showgrid=False,
            zeroline=False, showline=False, ticklabelstandoff=10, tickfont=dict(family=FONT, size=24, color=GREY),
            title=dict(text='<b>Longitude(°E)</b>', standoff=13, font=dict(family=FONT, size=29, color=GREY)),
        )
        axes[f'yaxis{key}'] = dict(
            domain=[fy(bottom), fy(top)], range=[300, 5], anchor=xname,
            tickvals=[50, 100, 150, 200, 250, 300], ticks='', showgrid=False,
            zeroline=False, showline=False, ticklabelstandoff=7, tickfont=dict(family=FONT, size=24, color=GREY),
            title=dict(text='<b>Depth(m)</b>' if i == 0 else '', standoff=6, font=dict(family=FONT, size=29, color=GREY)),
        )
        annotations.append(dict(
            text=f'<b>{days[i]}</b>', x=fx(sum(spans[i]) / 2), y=fy(top - 21), xref='paper', yref='paper',
            xanchor='center', yanchor='middle', showarrow=False, font=dict(family=FONT, size=29, color='#111111'),
        ))
        for txt, lon, dep, ang in labels[i]:
            annotations.append(dict(
                text=txt, x=lon, y=dep, xref=xname, yref=yname, textangle=ang, showarrow=False,
                xanchor='center', yanchor='middle', borderpad=0, bgcolor=jet_rgba(float(txt), lims, 0.5),
                font=dict(family=FONT, size=24, color='#111111'),
            ))
    annotations.append(dict(
        text=f'<b>{bar_title}</b>', x=fx(bar_tx), y=fy((top + bottom) / 2), xref='paper', yref='paper', textangle=-90,
        xanchor='center', yanchor='middle', showarrow=False, font=dict(family=FONT, size=29, color=GREY),
    ))
    annotations.append(dict(
        text=caption, x=fx(cap_xy[0]), y=fy(cap_xy[1]), xref='paper', yref='paper', xanchor='center', yanchor='middle',
        showarrow=False, font=dict(family='Liberation Serif', size=46, color='#111111'),
    ))

fig.update_layout(
    width=W, height=H, margin=dict(l=0, r=0, t=0, b=0), paper_bgcolor='white', plot_bgcolor='white',
    showlegend=False, annotations=annotations, **axes,
)
fig.write_html("out.html")
